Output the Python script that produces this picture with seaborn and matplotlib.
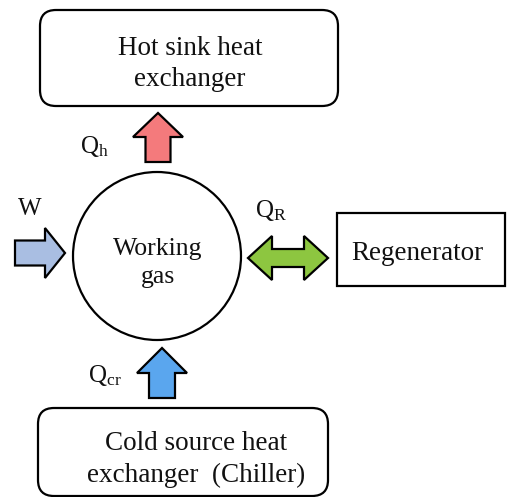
import matplotlib
matplotlib.use("Agg")
from matplotlib import pyplot as plt
from matplotlib.patches import FancyBboxPatch, Rectangle, Circle, FancyArrow, Polygon
import seaborn as sns

# diagram texts
top_box_lines = ["Hot sink heat", "exchanger"]
bottom_box_lines = ["Cold source heat", "exchanger  (Chiller)"]
side_box_text = "Regenerator"
centre_lines = ["Working", "gas"]
flow_labels = [r"$\mathregular{Q_h}$", "W", r"$\mathregular{Q_R}$", r"$\mathregular{Q_{cr}}$"]
arrow_colors = ["#F47A7C", "#A9BEE2", "#8DC640", "#5AA6EE"]

sns.set_theme(style="white")
plt.rcParams["font.family"] = ["Liberation Serif", "DejaVu Serif"]
plt.rcParams["mathtext.fontset"] = "custom"
plt.rcParams["mathtext.rm"] = "Liberation Serif"
plt.rcParams["text.color"] = "#111111"

fig = plt.figure(figsize=(5.07, 4.97), dpi=100)
ax = fig.add_axes([0, 0, 1, 1])
ax.set_xlim(0, 507)
ax.set_ylim(497, 0)
ax.axis("off")

lw = 1.6
fs = 19.5


def lines(x, ys, texts, ha="center", size=fs):
    for y, t in zip(ys, texts):
        ax.text(x, y, t, ha=ha, va="baseline", fontsize=size)


# top box (rounded)
ax.add_patch(FancyBboxPatch((40, 10), 298, 96, boxstyle="round,pad=0,rounding_size=16",
                            fc="white", ec="black", lw=lw))
lines(190, [55, 86], top_box_lines)

# bottom box (rounded, runs off the bottom)
ax.add_patch(FancyBboxPatch((38, 408), 290, 88, boxstyle="round,pad=0,rounding_size=16",
                            fc="white", ec="black", lw=lw))
lines(196, [450, 482], bottom_box_lines)

# regenerator box
ax.add_patch(Rectangle((337, 213), 168, 73, fc="white", ec="black", lw=lw))
lines(351, [260], [side_box_text], ha="left")

# working gas circle
ax.add_patch(Circle((157, 256), 84, fc="white", ec="black", lw=lw))
lines(158, [255, 283], centre_lines, size=18.5)

# Qh arrow (up)
ax.add_patch(FancyArrow(158, 162, 0, -49, width=25, head_width=50, head_length=24,
                        length_includes_head=True, fc=arrow_colors[0], ec="black", lw=lw))
ax.text(80, 153, flow_labels[0], ha="left", va="baseline", fontsize=18)

# W arrow (right)
ax.add_patch(FancyArrow(15, 253, 50, 0, width=25, head_width=50, head_length=20,
                        length_includes_head=True, fc=arrow_colors[1], ec="black", lw=lw))
ax.text(18, 215, flow_labels[1], ha="left", va="baseline", fontsize=18)

# QR double arrow
cx, cy = 288, 258
half, hl, sw, hw = 40, 24, 9, 22
pts = [(cx - half, cy), (cx - half + hl, cy - hw), (cx - half + hl, cy - sw),
       (cx + half - hl, cy - sw), (cx + half - hl, cy - hw), (cx + half, cy),
       (cx + half - hl, cy + hw), (cx + half - hl, cy + sw), (cx - half + hl, cy + sw),
       (cx - half + hl, cy + hw)]
ax.add_patch(Polygon(pts, closed=True, fc=arrow_colors[2], ec="black", lw=lw))
ax.text(255, 217, flow_labels[2], ha="left", va="baseline", fontsize=18)

# Qcr arrow (up)
ax.add_patch(FancyArrow(162, 398, 0, -50, width=26, head_width=50, head_length=25,
                        length_includes_head=True, fc=arrow_colors[3], ec="black", lw=lw))
ax.text(88, 382, flow_labels[3], ha="left", va="baseline", fontsize=18)

fig.savefig("out.png", dpi=100)
